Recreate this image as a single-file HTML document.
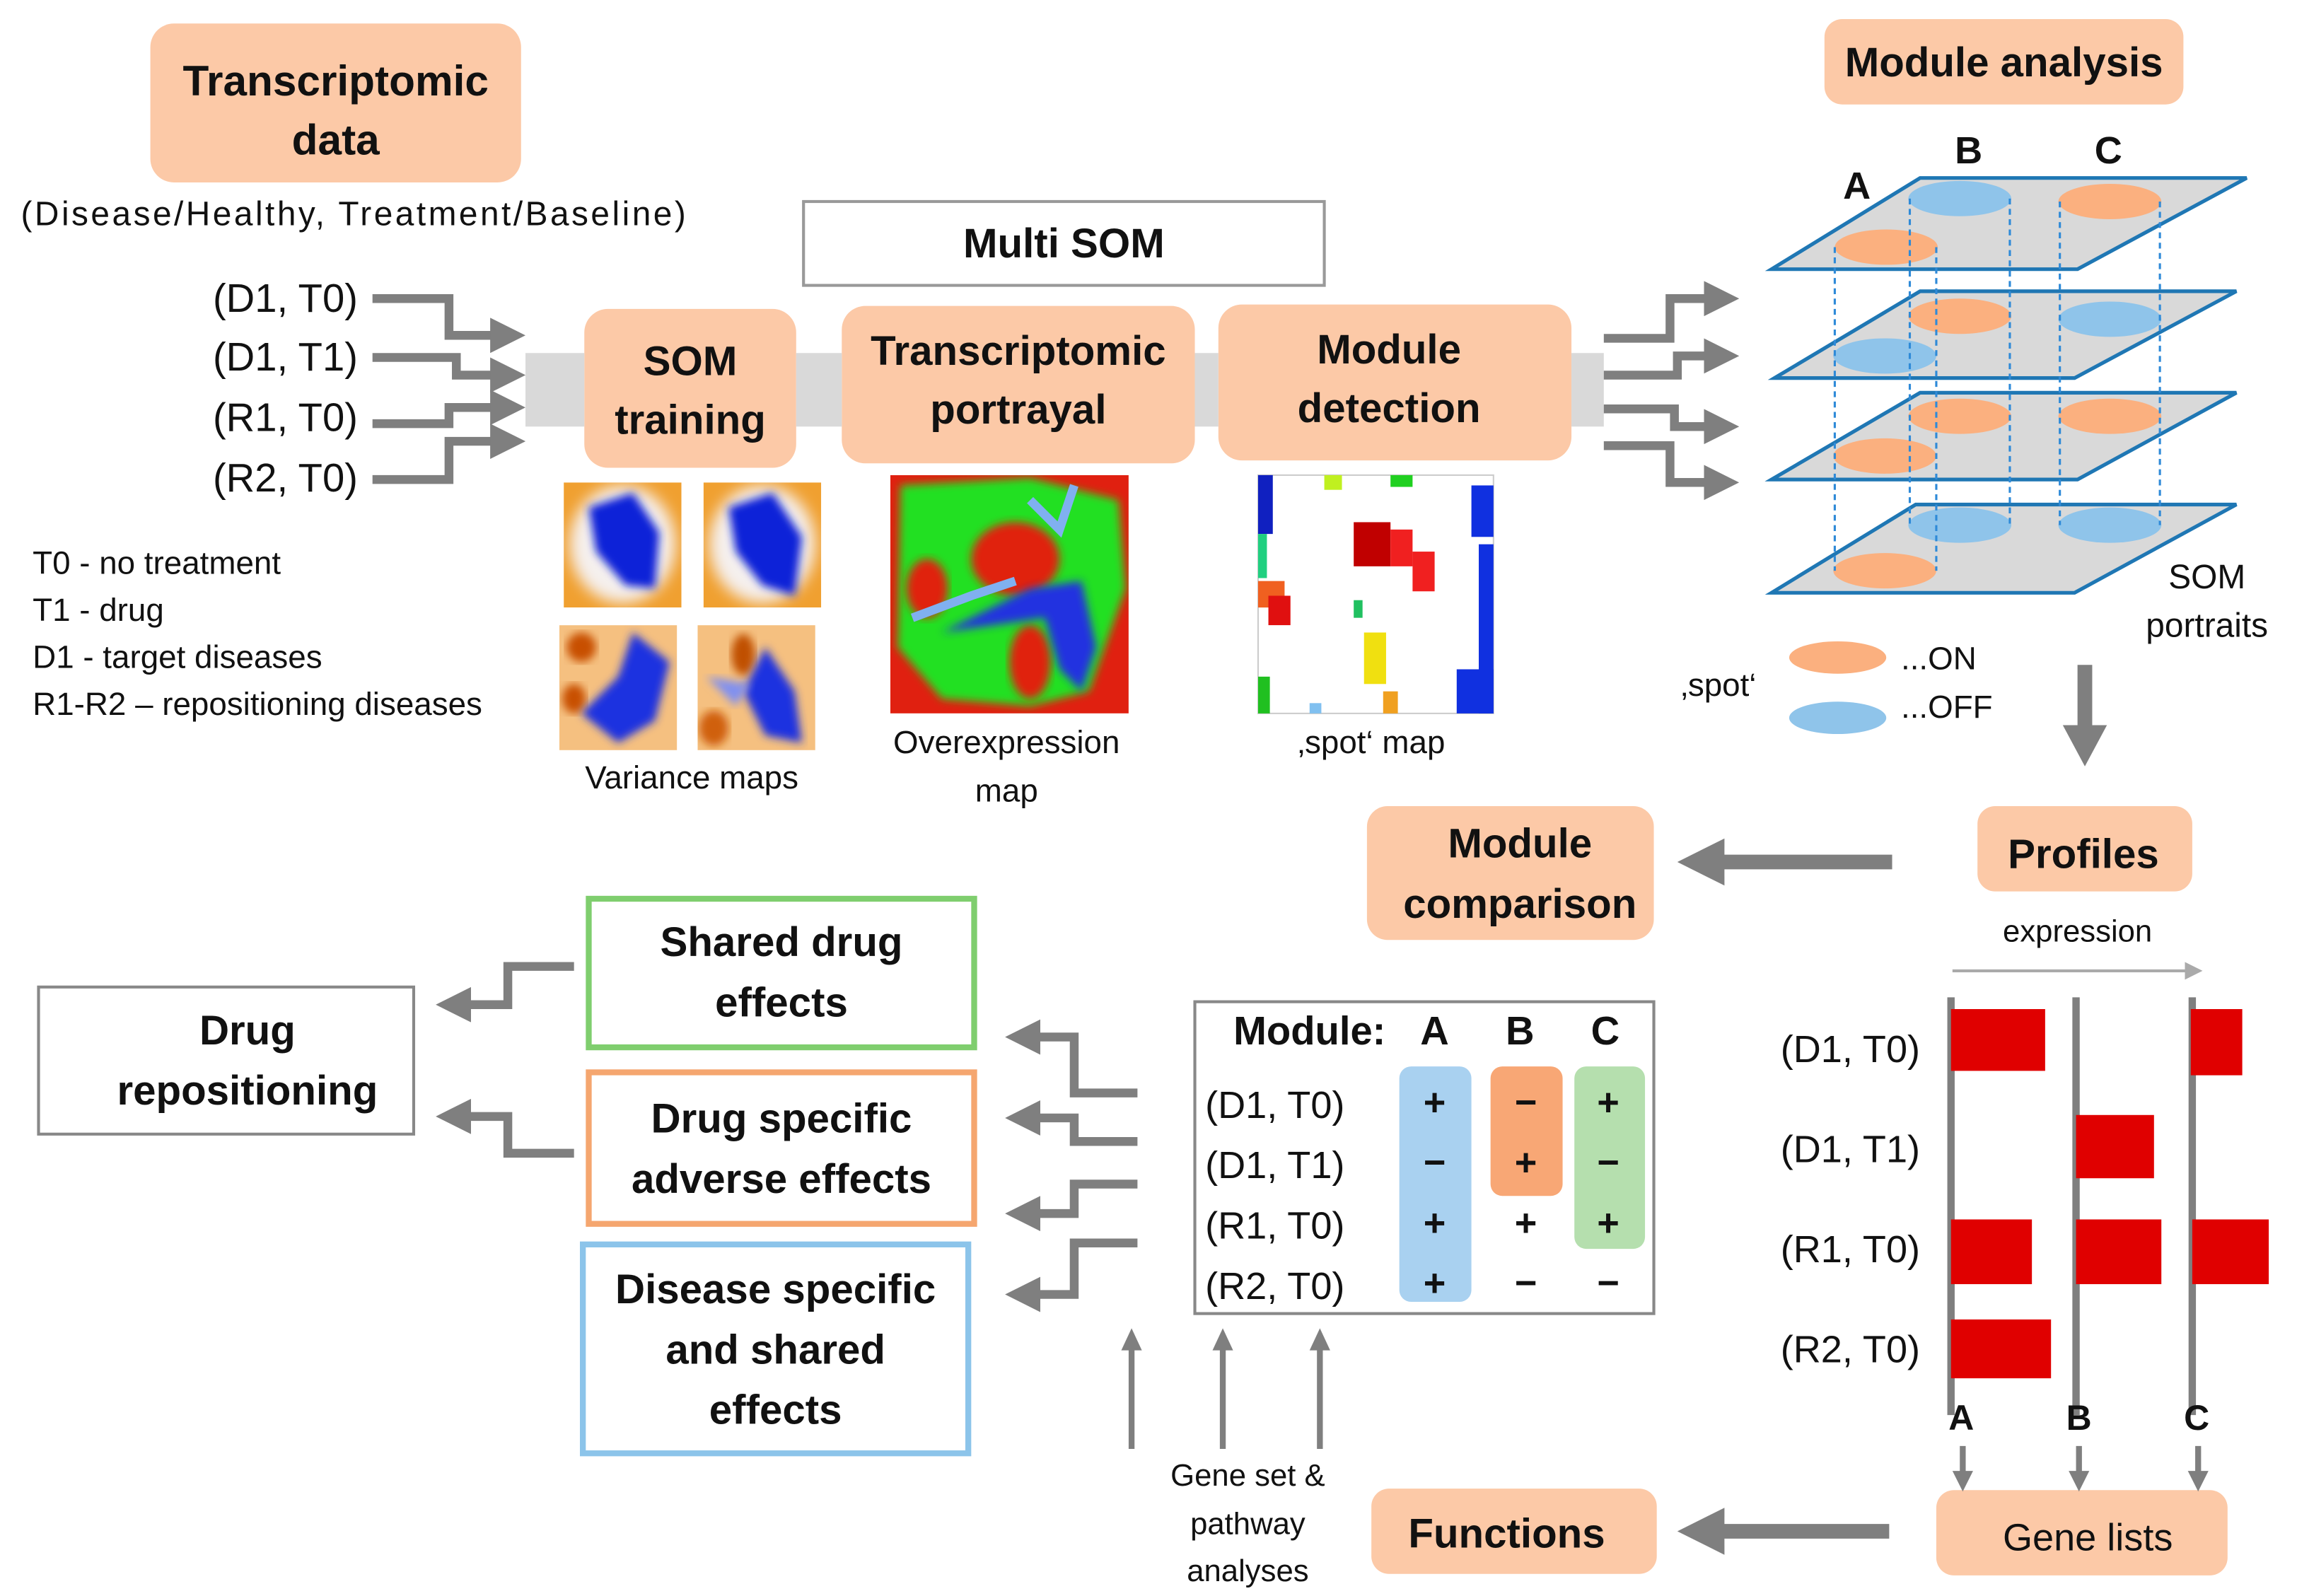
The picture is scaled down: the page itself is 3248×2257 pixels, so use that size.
<!DOCTYPE html>
<html><head><meta charset="utf-8"><style>
html,body{margin:0;padding:0;background:#fff}
svg{display:block}
text{font-family:"Liberation Sans",sans-serif;fill:#111}
.b{font-weight:bold}
</style></head><body>
<svg width="3248" height="2257" viewBox="0 0 1561 1085" xmlns="http://www.w3.org/2000/svg">
<defs>
<marker id="ah" markerWidth="4" markerHeight="4" refX="2" refY="2" orient="auto" markerUnits="strokeWidth"><path d="M0,0 L4,2 L0,4 z" fill="#7f7f7f"/></marker>
<marker id="ahs" markerWidth="6" markerHeight="6" refX="5" refY="3" orient="auto" markerUnits="strokeWidth"><path d="M0,0 L6,3 L0,6 z" fill="#aaa"/></marker>
<filter id="bl" x="-20%" y="-20%" width="140%" height="140%"><feGaussianBlur stdDeviation="5"/></filter>
<filter id="bl2"><feGaussianBlur stdDeviation="3"/></filter>
<clipPath id="c1"><rect x="383" y="328" width="80" height="85"/></clipPath>
<clipPath id="c2"><rect x="478" y="328" width="80" height="85"/></clipPath>
<clipPath id="c3"><rect x="380" y="425" width="80" height="85"/></clipPath>
<clipPath id="c4"><rect x="474" y="425" width="80" height="85"/></clipPath>
<clipPath id="c5"><rect x="605" y="323" width="162" height="162"/></clipPath>
</defs>
<g fill="#fcc9a7">
<rect x="102" y="16" width="252" height="108" rx="16"/>
<rect x="397" y="210" width="144" height="108" rx="16"/>
<rect x="572" y="208" width="240" height="107" rx="16"/>
<rect x="828" y="207" width="240" height="106" rx="16"/>
<rect x="1240" y="13" width="244" height="58" rx="12"/>
<rect x="1344" y="548" width="146" height="58" rx="12"/>
<rect x="929" y="548" width="195" height="91" rx="14"/>
<rect x="1316" y="1013" width="198" height="58" rx="12"/>
<rect x="932" y="1012" width="194" height="58" rx="12"/>
</g>
<rect x="357" y="240" width="40" height="50" fill="#d9d9d9"/>
<rect x="541" y="240" width="31" height="50" fill="#d9d9d9"/>
<rect x="812" y="240" width="16" height="50" fill="#d9d9d9"/>
<rect x="1068" y="240" width="22" height="50" fill="#d9d9d9"/>
<text class="b" x="228" y="65" font-size="29" text-anchor="middle">Transcriptomic</text>
<text class="b" x="228" y="105" font-size="29" text-anchor="middle">data</text>
<text x="240" y="153" font-size="23" text-anchor="middle" textLength="452">(Disease/Healthy, Treatment/Baseline)</text>
<g font-size="27" text-anchor="end">
<text x="243" y="212">(D1, T0)</text><text x="243" y="252">(D1, T1)</text>
<text x="243" y="293">(R1, T0)</text><text x="243" y="334">(R2, T0)</text></g>
<g stroke="#7f7f7f" stroke-width="6" fill="none" marker-end="url(#ah)">
<path d="M253,203 H305 V228 H345"/><path d="M253,243 H310 V255 H345"/>
<path d="M253,288 H305 V277 H345"/><path d="M253,326 H305 V300 H345"/>
<path d="M1090,230 H1135 V203 H1170"/><path d="M1090,255 H1140 V242 H1170"/>
<path d="M1090,278 H1138 V290 H1170"/><path d="M1090,303 H1135 V328 H1170"/>
</g>
<rect x="546" y="137" width="354" height="57" fill="#fff" stroke="#999" stroke-width="2"/>
<text class="b" x="723" y="175" font-size="28" text-anchor="middle">Multi SOM</text>
<text class="b" x="469" y="255" font-size="28" text-anchor="middle">SOM</text>
<text class="b" x="469" y="295" font-size="28" text-anchor="middle">training</text>
<text class="b" x="692" y="248" font-size="28" text-anchor="middle">Transcriptomic</text>
<text class="b" x="692" y="288" font-size="28" text-anchor="middle">portrayal</text>
<text class="b" x="944" y="247" font-size="28" text-anchor="middle">Module</text>
<text class="b" x="944" y="287" font-size="28" text-anchor="middle">detection</text>
<!-- variance maps -->
<g clip-path="url(#c1)"><rect x="383" y="328" width="80" height="85" fill="#f0a030"/><ellipse cx="423" cy="370" rx="36" ry="40" fill="#f5f0ee" filter="url(#bl)"/><path d="M400,345 L430,335 L448,362 L445,400 L425,398 L405,375 Z" fill="#1020d8" filter="url(#bl2)"/></g>
<g clip-path="url(#c2)"><rect x="478" y="328" width="80" height="85" fill="#f0a030"/><ellipse cx="518" cy="370" rx="36" ry="40" fill="#f5f0ee" filter="url(#bl)"/><path d="M495,345 L525,335 L545,365 L540,405 L518,398 L500,375 Z" fill="#1020d8" filter="url(#bl2)"/></g>
<g clip-path="url(#c3)"><rect x="380" y="425" width="80" height="85" fill="#f5c080"/><ellipse cx="395" cy="440" rx="10" ry="10" fill="#c85000" filter="url(#bl2)"/><ellipse cx="390" cy="475" rx="8" ry="10" fill="#c85000" filter="url(#bl2)"/><path d="M430,430 L455,450 L445,490 L420,505 L395,485 L420,460 Z" fill="#1a30e0" filter="url(#bl2)"/></g>
<g clip-path="url(#c4)"><rect x="474" y="425" width="80" height="85" fill="#f5c080"/><ellipse cx="505" cy="445" rx="8" ry="14" fill="#c05000" filter="url(#bl2)"/><ellipse cx="485" cy="495" rx="10" ry="12" fill="#d06010" filter="url(#bl2)"/><path d="M520,440 L540,470 L545,505 L520,500 L505,470 Z" fill="#1a30e0" filter="url(#bl2)"/><path d="M480,460 L510,465 L500,480 Z" fill="#8090f0" filter="url(#bl2)"/></g>
<text x="470" y="536" font-size="22" text-anchor="middle">Variance maps</text>
<!-- overexpression -->
<g clip-path="url(#c5)"><rect x="605" y="323" width="162" height="162" fill="#e02010"/>
<path d="M612,330 L700,325 L760,340 L765,400 L740,470 L700,480 L640,475 L610,440 Z" fill="#20e020" filter="url(#bl2)"/>
<ellipse cx="690" cy="380" rx="30" ry="25" fill="#e02010" filter="url(#bl2)"/>
<ellipse cx="700" cy="450" rx="14" ry="25" fill="#e02010" filter="url(#bl2)"/>
<ellipse cx="630" cy="400" rx="14" ry="20" fill="#e02010" filter="url(#bl2)"/>
<path d="M640,430 L680,410 L700,400 L735,395 L745,440 L735,470 L720,455 L710,420 Z" fill="#2030e0" filter="url(#bl2)"/>
<path d="M620,420 L660,405 L690,395 M700,340 L720,360 L730,330" stroke="#80b0f0" stroke-width="6" fill="none"/>
</g>
<text x="684" y="512" font-size="22" text-anchor="middle">Overexpression</text>
<text x="684" y="545" font-size="22" text-anchor="middle">map</text>
<!-- spot map -->
<rect x="855" y="323" width="160" height="162" fill="#fff" stroke="#ccc"/>
<rect x="855" y="323" width="10" height="40" fill="#1020c0"/><rect x="855" y="363" width="6" height="30" fill="#20d080"/>
<rect x="900" y="323" width="12" height="10" fill="#c0f020"/><rect x="945" y="323" width="15" height="8" fill="#20d020"/>
<rect x="1000" y="330" width="15" height="35" fill="#1030e0"/><rect x="1005" y="370" width="10" height="115" fill="#1030e0"/>
<rect x="920" y="355" width="25" height="30" fill="#c00000"/><rect x="945" y="360" width="15" height="25" fill="#f02020"/><rect x="960" y="375" width="15" height="27" fill="#f02020"/>
<rect x="855" y="395" width="18" height="18" fill="#f06020"/><rect x="862" y="405" width="15" height="20" fill="#e01010"/>
<rect x="920" y="408" width="6" height="12" fill="#20c060"/><rect x="927" y="430" width="15" height="35" fill="#f0e010"/>
<rect x="855" y="460" width="8" height="25" fill="#20c020"/><rect x="990" y="455" width="25" height="30" fill="#1030e0"/>
<rect x="940" y="470" width="10" height="15" fill="#f0a020"/><rect x="890" y="478" width="8" height="7" fill="#80c0f0"/>
<text x="932" y="512" font-size="22" text-anchor="middle">‚spot‘ map</text>
<g font-size="22"><text x="22" y="390">T0 - no treatment</text><text x="22" y="422">T1 - drug</text><text x="22" y="454">D1 - target diseases</text><text x="22" y="486">R1-R2 – repositioning diseases</text></g>
<text class="b" x="1362" y="52" font-size="28" text-anchor="middle">Module analysis</text>
<!-- planes -->
<g stroke="#1f77b4" stroke-width="2.5" fill="#d9d9d9">
<path d="M1204,183 L1305,121 L1527,121 L1412,183 Z"/>
<path d="M1206,257 L1305,198 L1520,198 L1410,257 Z"/>
<path d="M1204,326 L1305,267 L1520,267 L1412,326 Z"/>
<path d="M1204,403 L1302,343 L1520,343 L1410,403 Z"/></g>
<g>
<ellipse cx="1282" cy="168" rx="35" ry="12" fill="#fbb07f"/><ellipse cx="1332" cy="135" rx="35" ry="12" fill="#8fc4ea"/><ellipse cx="1434" cy="137" rx="35" ry="12" fill="#fbb07f"/>
<ellipse cx="1332" cy="215" rx="35" ry="12" fill="#fbb07f"/><ellipse cx="1434" cy="217" rx="35" ry="12" fill="#8fc4ea"/><ellipse cx="1281" cy="242" rx="35" ry="12" fill="#8fc4ea"/>
<ellipse cx="1332" cy="283" rx="35" ry="12" fill="#fbb07f"/><ellipse cx="1434" cy="283" rx="35" ry="12" fill="#fbb07f"/><ellipse cx="1281" cy="310" rx="35" ry="12" fill="#fbb07f"/>
<ellipse cx="1332" cy="357" rx="35" ry="12" fill="#8fc4ea"/><ellipse cx="1434" cy="357" rx="35" ry="12" fill="#8fc4ea"/><ellipse cx="1281" cy="388" rx="35" ry="12" fill="#fbb07f"/>
</g>
<g stroke="#2e8ad8" stroke-width="1.5" stroke-dasharray="4,3">
<path d="M1247,168 V388 M1316,168 V388 M1298,135 V357 M1366,135 V357 M1400,137 V357 M1468,137 V357"/></g>
<g class="b" font-size="26" text-anchor="middle"><text class="b" x="1262" y="135">A</text><text class="b" x="1338" y="111">B</text><text class="b" x="1433" y="111">C</text></g>
<text x="1500" y="400" font-size="23" text-anchor="middle">SOM</text>
<text x="1500" y="433" font-size="23" text-anchor="middle">portraits</text>
<text x="1168" y="473" font-size="22" text-anchor="middle">‚spot‘</text>
<ellipse cx="1249" cy="447" rx="33" ry="11" fill="#fbb07f"/><text x="1292" y="455" font-size="22">...ON</text>
<ellipse cx="1249" cy="488" rx="33" ry="11" fill="#8fc4ea"/><text x="1292" y="488" font-size="22">...OFF</text>
<path d="M1417,452 V495" stroke="#7f7f7f" stroke-width="10"/><path d="M1402,493 L1432,493 L1417,521 Z" fill="#7f7f7f"/>
<text class="b" x="1416" y="590" font-size="28" text-anchor="middle">Profiles</text>
<text class="b" x="1033" y="583" font-size="28" text-anchor="middle">Module</text>
<text class="b" x="1033" y="624" font-size="28" text-anchor="middle">comparison</text>
<path d="M1286,586 H1170" stroke="#7f7f7f" stroke-width="10"/><path d="M1172,570 L1172,602 L1140,586 Z" fill="#7f7f7f"/>
<path d="M1284,1041 H1170" stroke="#7f7f7f" stroke-width="10"/><path d="M1172,1025 L1172,1057 L1140,1041 Z" fill="#7f7f7f"/>
<text x="1412" y="640" font-size="21" text-anchor="middle">expression</text>
<path d="M1327,660 H1495" stroke="#aaa" stroke-width="2" marker-end="url(#ahs)"/>
<g stroke="#7f7f7f" stroke-width="5"><path d="M1326,678 V962 M1411,678 V962 M1490,678 V962"/></g>
<g fill="#e00000"><rect x="1326" y="686" width="64" height="42"/><rect x="1489" y="686" width="35" height="45"/><rect x="1411" y="758" width="53" height="43"/><rect x="1326" y="829" width="55" height="44"/><rect x="1411" y="829" width="58" height="44"/><rect x="1490" y="829" width="52" height="44"/><rect x="1326" y="897" width="68" height="40"/></g>
<g font-size="26" text-anchor="end"><text x="1305" y="722">(D1, T0)</text><text x="1305" y="790">(D1, T1)</text><text x="1305" y="858">(R1, T0)</text><text x="1305" y="926">(R2, T0)</text></g>
<g font-size="24" text-anchor="middle"><text class="b" x="1333" y="972">A</text><text class="b" x="1413" y="972">B</text><text class="b" x="1493" y="972">C</text></g>
<g stroke="#7f7f7f" stroke-width="4"><path d="M1334,983 V1002 M1413,983 V1002 M1494,983 V1002"/></g>
<g fill="#7f7f7f"><path d="M1327,1000 L1341,1000 L1334,1014 Z"/><path d="M1406,1000 L1420,1000 L1413,1014 Z"/><path d="M1487,1000 L1501,1000 L1494,1014 Z"/></g>
<text x="1419" y="1054" font-size="26" text-anchor="middle">Gene lists</text>
<text class="b" x="1024" y="1052" font-size="28" text-anchor="middle">Functions</text>
<g font-size="21" text-anchor="middle"><text x="848" y="1010">Gene set &amp;</text><text x="848" y="1043">pathway</text><text x="848" y="1075">analyses</text></g>
<g stroke="#7f7f7f" stroke-width="4"><path d="M769,985 V915 M831,985 V915 M897,985 V915"/></g>
<g fill="#7f7f7f"><path d="M762,918 L776,918 L769,903 Z"/><path d="M824,918 L838,918 L831,903 Z"/><path d="M890,918 L904,918 L897,903 Z"/></g>
<!-- table -->
<rect x="812" y="681" width="312" height="212" fill="#fff" stroke="#888" stroke-width="2"/>
<rect x="951" y="725" width="49" height="160" rx="8" fill="#a9d1f0"/>
<rect x="1013" y="725" width="49" height="88" rx="8" fill="#f8a775"/>
<rect x="1070" y="725" width="48" height="124" rx="8" fill="#b5dfae"/>
<text class="b" x="890" y="710" font-size="27" text-anchor="middle">Module:</text>
<g class="b" font-size="27" text-anchor="middle"><text class="b" x="975" y="710">A</text><text class="b" x="1033" y="710">B</text><text class="b" x="1091" y="710">C</text></g>
<g font-size="26"><text x="819" y="760">(D1, T0)</text><text x="819" y="801">(D1, T1)</text><text x="819" y="842">(R1, T0)</text><text x="819" y="883">(R2, T0)</text></g>
<g class="b" font-size="26" text-anchor="middle">
<text class="b" x="975" y="758">+</text><text class="b" x="1037" y="758">−</text><text class="b" x="1093" y="758">+</text>
<text class="b" x="975" y="799">−</text><text class="b" x="1037" y="799">+</text><text class="b" x="1093" y="799">−</text>
<text class="b" x="975" y="840">+</text><text class="b" x="1037" y="840">+</text><text class="b" x="1093" y="840">+</text>
<text class="b" x="975" y="881">+</text><text class="b" x="1037" y="881">−</text><text class="b" x="1093" y="881">−</text></g>
<g stroke="#7f7f7f" stroke-width="6" fill="none" marker-end="url(#ah)">
<path d="M773,743 H730 V705 H695"/><path d="M773,776 H730 V760 H695"/>
<path d="M773,805 H730 V825 H695"/><path d="M773,845 H730 V880 H695"/>
<path d="M390,657 H345 V683 H308"/><path d="M390,784 H345 V759 H308"/></g>
<rect x="400" y="611" width="262" height="101" fill="#fff" stroke="#7fce6e" stroke-width="4"/>
<rect x="400" y="729" width="262" height="103" fill="#fff" stroke="#f5a66f" stroke-width="4"/>
<rect x="396" y="846" width="262" height="142" fill="#fff" stroke="#8cc4ea" stroke-width="4"/>
<rect x="26" y="671" width="255" height="100" fill="#fff" stroke="#888" stroke-width="2"/>
<g class="b" font-size="28" text-anchor="middle">
<text class="b" x="531" y="650">Shared drug</text><text class="b" x="531" y="691">effects</text>
<text class="b" x="531" y="770">Drug specific</text><text class="b" x="531" y="811">adverse effects</text>
<text class="b" x="527" y="886">Disease specific</text><text class="b" x="527" y="927">and shared</text><text class="b" x="527" y="968">effects</text>
<text class="b" x="168" y="710">Drug</text><text class="b" x="168" y="751">repositioning</text></g>
</svg>
</body></html>
